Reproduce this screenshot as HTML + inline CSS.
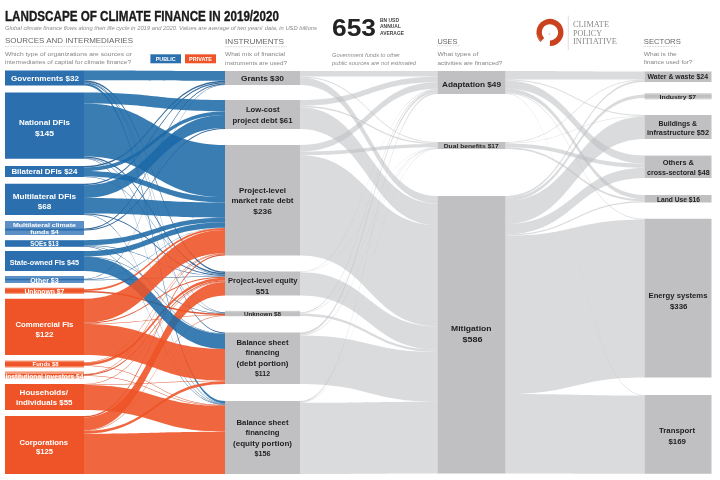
<!DOCTYPE html>
<html><head><meta charset="utf-8"><title>Landscape of Climate Finance in 2019/2020</title>
<style>
html,body{margin:0;padding:0;background:#fff;}
body{width:720px;height:480px;overflow:hidden;}
svg{display:block;}
text{font-family:"Liberation Sans",sans-serif;}
.b{font-weight:bold;}
.w{fill:#fff;}
.k{fill:#1e1e1e;}
.g{fill:#666;}
.g2{fill:#858585;}
.q{fill:#8a8a8a;font-style:italic;}
.serif{font-family:"Liberation Serif",serif;fill:#8a8a8a;}
</style></head>
<body>
<svg width="720" height="480" viewBox="0 0 720 480">
<rect width="720" height="480" fill="#fff"/>

<!-- ============ HEADER ============ -->
<text x="5" y="20.8" font-size="14.2" class="b" fill="#1a1a1a" stroke="#1a1a1a" stroke-width="0.35" textLength="274" lengthAdjust="spacingAndGlyphs">LANDSCAPE OF CLIMATE FINANCE IN 2019/2020</text>
<text x="5" y="30.3" font-size="5.6" class="q" textLength="312" lengthAdjust="spacingAndGlyphs">Global climate finance flows along their life cycle in 2019 and 2020. Values are average of two years' data, in USD billions</text>

<text x="5" y="43.4" font-size="8" class="g" textLength="128" lengthAdjust="spacingAndGlyphs">SOURCES AND INTERMEDIARIES</text>
<line x1="5" y1="46.4" x2="133" y2="46.4" stroke="#aaa" stroke-width="0.6" stroke-dasharray="0.8 0.8"/>
<text x="5" y="56" font-size="5.9" class="g2" textLength="127" lengthAdjust="spacingAndGlyphs">Which type of organizations are sources or</text>
<text x="5" y="64.2" font-size="5.9" class="g2" textLength="126" lengthAdjust="spacingAndGlyphs">intermediaries of capital for climate finance?</text>

<rect x="150.4" y="54.3" width="30.6" height="9" fill="#2b6fae"/>
<text x="165.7" y="60.9" font-size="5.2" class="b w" text-anchor="middle" textLength="20" lengthAdjust="spacingAndGlyphs">PUBLIC</text>
<rect x="185" y="54.3" width="31" height="9" fill="#ee5428"/>
<text x="200.5" y="60.9" font-size="5.2" class="b w" text-anchor="middle" textLength="23" lengthAdjust="spacingAndGlyphs">PRIVATE</text>

<text x="225" y="43.9" font-size="8" class="g" textLength="59" lengthAdjust="spacingAndGlyphs">INSTRUMENTS</text>
<line x1="225" y1="46.7" x2="287" y2="46.7" stroke="#aaa" stroke-width="0.6" stroke-dasharray="0.8 0.8"/>
<text x="225" y="56.3" font-size="5.9" class="g2" textLength="60" lengthAdjust="spacingAndGlyphs">What mix of financial</text>
<text x="225" y="64.5" font-size="5.9" class="g2" textLength="62" lengthAdjust="spacingAndGlyphs">instruments are used?</text>

<text x="332" y="35.6" font-size="24" class="b" fill="#232323" textLength="44" lengthAdjust="spacingAndGlyphs">653</text>
<text x="380" y="22.2" font-size="5.2" class="b" fill="#444" textLength="19" lengthAdjust="spacingAndGlyphs">BN USD</text>
<text x="380" y="28.2" font-size="5.2" class="b" fill="#444" textLength="21" lengthAdjust="spacingAndGlyphs">ANNUAL</text>
<text x="380" y="34.6" font-size="5.6" class="b" fill="#444" textLength="24" lengthAdjust="spacingAndGlyphs">AVERAGE</text>
<text x="332" y="57" font-size="5.4" class="q" fill="#666" textLength="68" lengthAdjust="spacingAndGlyphs">Government funds to other</text>
<text x="332" y="64.6" font-size="5.4" class="q" fill="#666" textLength="84" lengthAdjust="spacingAndGlyphs">public sources are not estimated</text>

<text x="437.4" y="43.6" font-size="8" class="g" textLength="20" lengthAdjust="spacingAndGlyphs">USES</text>
<line x1="437.4" y1="45.8" x2="460" y2="45.8" stroke="#aaa" stroke-width="0.6" stroke-dasharray="0.8 0.8"/>
<text x="437.4" y="56.3" font-size="5.9" class="g2" textLength="41" lengthAdjust="spacingAndGlyphs">What types of</text>
<text x="437.4" y="64.5" font-size="5.9" class="g2" textLength="65" lengthAdjust="spacingAndGlyphs">activities are financed?</text>

<!-- CPI logo -->
<g transform="translate(549.9,32.4)">
  <path d="M-7.6,7.6 A10.8,10.8 0 1 1 0,10.8" fill="none" stroke="#c9421d" stroke-width="5.4"/>
  <path d="M-8.9,8.9 A12.6,12.6 0 0 1 -12.3,2.5" fill="none" stroke="#d8684a" stroke-width="1.4"/>
  <circle cx="-0.6" cy="1.6" r="0.9" fill="#f0c2b2"/>
</g>
<line x1="568.3" y1="15.5" x2="568.3" y2="50" stroke="#d8d8d8" stroke-width="0.8"/>
<text x="573" y="27.4" font-size="8.4" class="serif" textLength="36" lengthAdjust="spacingAndGlyphs">CLIMATE</text>
<text x="573" y="35.7" font-size="8.4" class="serif" textLength="29" lengthAdjust="spacingAndGlyphs">POLICY</text>
<text x="573" y="44" font-size="8.4" class="serif" textLength="44" lengthAdjust="spacingAndGlyphs">INITIATIVE</text>

<text x="643.8" y="43.7" font-size="8" class="g" textLength="37" lengthAdjust="spacingAndGlyphs">SECTORS</text>
<line x1="643.8" y1="46.5" x2="677" y2="46.5" stroke="#aaa" stroke-width="0.6" stroke-dasharray="0.8 0.8"/>
<text x="643.8" y="56" font-size="5.9" class="g2" textLength="33" lengthAdjust="spacingAndGlyphs">What is the</text>
<text x="643.8" y="64.4" font-size="5.9" class="g2" textLength="48.5" lengthAdjust="spacingAndGlyphs">finance used for?</text>

<!-- ============ FLOWS ============ -->
<defs><filter id="soft" x="-2%" y="-2%" width="104%" height="104%"><feGaussianBlur stdDeviation="0.55"/></filter></defs>
<g id="flows" filter="url(#soft)">
<path d="M84.00,81.75C154.50,81.75 154.50,312.20 225.00,312.20L225.00,312.68C154.50,312.68 154.50,82.22 84.00,82.22Z" fill="#1a5590" fill-opacity="0.88"/>
<path d="M84.00,157.84C154.50,157.84 154.50,312.68 225.00,312.68L225.00,313.15C154.50,313.15 154.50,158.29 84.00,158.29Z" fill="#1a5590" fill-opacity="0.88"/>
<path d="M84.00,158.29C154.50,158.29 154.50,403.43 225.00,403.43L225.00,403.92C154.50,403.92 154.50,158.75 84.00,158.75Z" fill="#1a5590" fill-opacity="0.88"/>
<path d="M84.00,176.54C154.50,176.54 154.50,274.38 225.00,274.38L225.00,274.86C154.50,274.86 154.50,177.00 84.00,177.00Z" fill="#1a5590" fill-opacity="0.88"/>
<path d="M84.00,214.54C154.50,214.54 154.50,403.92 225.00,403.92L225.00,404.41C154.50,404.41 154.50,215.00 84.00,215.00Z" fill="#1a5590" fill-opacity="0.88"/>
<path d="M84.00,245.28C154.50,245.28 154.50,275.82 225.00,275.82L225.00,276.30C154.50,276.30 154.50,245.78 84.00,245.78Z" fill="#1a5590" fill-opacity="0.88"/>
<path d="M84.00,245.78C154.50,245.78 154.50,333.44 225.00,333.44L225.00,333.92C154.50,333.92 154.50,246.29 84.00,246.29Z" fill="#1a5590" fill-opacity="0.88"/>
<path d="M84.00,246.29C154.50,246.29 154.50,404.41 225.00,404.41L225.00,404.89C154.50,404.89 154.50,246.80 84.00,246.80Z" fill="#1a5590" fill-opacity="0.88"/>
<path d="M84.00,256.33C154.50,256.33 154.50,313.15 225.00,313.15L225.00,313.63C154.50,313.63 154.50,256.78 84.00,256.78Z" fill="#1a5590" fill-opacity="0.88"/>
<path d="M84.00,278.80C154.50,278.80 154.50,84.53 225.00,84.53L225.00,85.00C154.50,85.00 154.50,279.30 84.00,279.30Z" fill="#1a5590" fill-opacity="0.88"/>
<path d="M84.00,279.30C154.50,279.30 154.50,227.65 225.00,227.65L225.00,228.10C154.50,228.10 154.50,279.80 84.00,279.80Z" fill="#1a5590" fill-opacity="0.88"/>
<path d="M84.00,279.80C154.50,279.80 154.50,276.30 225.00,276.30L225.00,276.78C154.50,276.78 154.50,280.30 84.00,280.30Z" fill="#1a5590" fill-opacity="0.88"/>
<path d="M84.00,323.65C154.50,323.65 154.50,315.05 225.00,315.05L225.00,315.53C154.50,315.53 154.50,324.11 84.00,324.11Z" fill="#d8461c" fill-opacity="0.88"/>
<path d="M84.00,362.20C154.50,362.20 154.50,253.25 225.00,253.25L225.00,253.70C154.50,253.70 154.50,362.68 84.00,362.68Z" fill="#d8461c" fill-opacity="0.88"/>
<path d="M84.00,365.53C154.50,365.53 154.50,404.89 225.00,404.89L225.00,405.38C154.50,405.38 154.50,366.00 84.00,366.00Z" fill="#d8461c" fill-opacity="0.88"/>
<path d="M84.00,374.00C154.50,374.00 154.50,253.70 225.00,253.70L225.00,254.15C154.50,254.15 154.50,374.50 84.00,374.50Z" fill="#d8461c" fill-opacity="0.88"/>
<path d="M84.00,375.50C154.50,375.50 154.50,405.38 225.00,405.38L225.00,405.87C154.50,405.87 154.50,376.00 84.00,376.00Z" fill="#d8461c" fill-opacity="0.88"/>
<path d="M84.00,384.00C154.50,384.00 154.50,281.58 225.00,281.58L225.00,282.06C154.50,282.06 154.50,384.47 84.00,384.47Z" fill="#d8461c" fill-opacity="0.88"/>
<path d="M84.00,384.47C154.50,384.47 154.50,380.69 225.00,380.69L225.00,381.17C154.50,381.17 154.50,384.95 84.00,384.95Z" fill="#d8461c" fill-opacity="0.88"/>
<path d="M84.00,430.38C154.50,430.38 154.50,315.53 225.00,315.53L225.00,316.00C154.50,316.00 154.50,430.85 84.00,430.85Z" fill="#d8461c" fill-opacity="0.88"/>
<path d="M84.00,82.22C154.50,82.22 154.50,332.50 225.00,332.50L225.00,333.44C154.50,333.44 154.50,83.16 84.00,83.16Z" fill="#1a5590" fill-opacity="0.88"/>
<path d="M84.00,213.62C154.50,213.62 154.50,274.86 225.00,274.86L225.00,275.82C154.50,275.82 154.50,214.54 84.00,214.54Z" fill="#1a5590" fill-opacity="0.88"/>
<path d="M84.00,228.60C154.50,228.60 154.50,83.60 225.00,83.60L225.00,84.53C154.50,84.53 154.50,229.60 84.00,229.60Z" fill="#1a5590" fill-opacity="0.88"/>
<path d="M84.00,229.60C154.50,229.60 154.50,128.06 225.00,128.06L225.00,129.00C154.50,129.00 154.50,230.60 84.00,230.60Z" fill="#1a5590" fill-opacity="0.88"/>
<path d="M84.00,322.73C154.50,322.73 154.50,276.78 225.00,276.78L225.00,277.74C154.50,277.74 154.50,323.65 84.00,323.65Z" fill="#d8461c" fill-opacity="0.88"/>
<path d="M84.00,374.50C154.50,374.50 154.50,280.62 225.00,280.62L225.00,281.58C154.50,281.58 154.50,375.50 84.00,375.50Z" fill="#d8461c" fill-opacity="0.88"/>
<path d="M84.00,80.34C154.50,80.34 154.50,271.50 225.00,271.50L225.00,272.94C154.50,272.94 154.50,81.75 84.00,81.75Z" fill="#1a5590" fill-opacity="0.88"/>
<path d="M84.00,156.47C154.50,156.47 154.50,272.94 225.00,272.94L225.00,274.38C154.50,274.38 154.50,157.84 84.00,157.84Z" fill="#1a5590" fill-opacity="0.88"/>
<path d="M84.00,166.00C154.50,166.00 154.50,80.80 225.00,80.80L225.00,82.20C154.50,82.20 154.50,167.38 84.00,167.38Z" fill="#1a5590" fill-opacity="0.88"/>
<path d="M84.00,183.75C154.50,183.75 154.50,82.20 225.00,82.20L225.00,83.60C154.50,83.60 154.50,185.13 84.00,185.13Z" fill="#1a5590" fill-opacity="0.88"/>
<path d="M84.00,291.09C154.50,291.09 154.50,313.63 225.00,313.63L225.00,315.05C154.50,315.05 154.50,292.50 84.00,292.50Z" fill="#d8461c" fill-opacity="0.88"/>
<path d="M84.00,416.00C154.50,416.00 154.50,254.15 225.00,254.15L225.00,255.50C154.50,255.50 154.50,417.39 84.00,417.39Z" fill="#d8461c" fill-opacity="0.88"/>
<path d="M84.00,289.20C154.50,289.20 154.50,228.10 225.00,228.10L225.00,229.90C154.50,229.90 154.50,291.09 84.00,291.09Z" fill="#ee5327" fill-opacity="0.88"/>
<path d="M84.00,83.16C154.50,83.16 154.50,401.00 225.00,401.00L225.00,403.43C154.50,403.43 154.50,85.50 84.00,85.50Z" fill="#1e6ba8" fill-opacity="0.88"/>
<path d="M84.00,362.68C154.50,362.68 154.50,277.74 225.00,277.74L225.00,280.62C154.50,280.62 154.50,365.53 84.00,365.53Z" fill="#ee5327" fill-opacity="0.88"/>
<path d="M84.00,430.85C154.50,430.85 154.50,381.17 225.00,381.17L225.00,384.00C154.50,384.00 154.50,433.63 84.00,433.63Z" fill="#ee5327" fill-opacity="0.88"/>
<path d="M84.00,167.38C154.50,167.38 154.50,111.23 225.00,111.23L225.00,114.97C154.50,114.97 154.50,171.04 84.00,171.04Z" fill="#1e6ba8" fill-opacity="0.88"/>
<path d="M84.00,240.20C154.50,240.20 154.50,217.77 225.00,217.77L225.00,222.26C154.50,222.26 154.50,245.28 84.00,245.28Z" fill="#1e6ba8" fill-opacity="0.88"/>
<path d="M84.00,171.04C154.50,171.04 154.50,197.11 225.00,197.11L225.00,202.50C154.50,202.50 154.50,176.54 84.00,176.54Z" fill="#1e6ba8" fill-opacity="0.88"/>
<path d="M84.00,251.00C154.50,251.00 154.50,222.26 225.00,222.26L225.00,227.65C154.50,227.65 154.50,256.33 84.00,256.33Z" fill="#1e6ba8" fill-opacity="0.88"/>
<path d="M84.00,70.50C154.50,70.50 154.50,71.00 225.00,71.00L225.00,80.80C154.50,80.80 154.50,80.34 84.00,80.34Z" fill="#1e6ba8" fill-opacity="0.88"/>
<path d="M84.00,92.50C154.50,92.50 154.50,100.00 225.00,100.00L225.00,111.23C154.50,111.23 154.50,103.47 84.00,103.47Z" fill="#1e6ba8" fill-opacity="0.88"/>
<path d="M84.00,185.13C154.50,185.13 154.50,114.97 225.00,114.97L225.00,128.06C154.50,128.06 154.50,198.00 84.00,198.00Z" fill="#1e6ba8" fill-opacity="0.88"/>
<path d="M84.00,417.39C154.50,417.39 154.50,282.06 225.00,282.06L225.00,295.50C154.50,295.50 154.50,430.38 84.00,430.38Z" fill="#ee5327" fill-opacity="0.88"/>
<path d="M84.00,256.78C154.50,256.78 154.50,333.92 225.00,333.92L225.00,349.04C154.50,349.04 154.50,271.00 84.00,271.00Z" fill="#1e6ba8" fill-opacity="0.88"/>
<path d="M84.00,198.00C154.50,198.00 154.50,202.50 225.00,202.50L225.00,217.77C154.50,217.77 154.50,213.62 84.00,213.62Z" fill="#1e6ba8" fill-opacity="0.88"/>
<path d="M84.00,298.75C154.50,298.75 154.50,229.90 225.00,229.90L225.00,253.25C154.50,253.25 154.50,322.73 84.00,322.73Z" fill="#ee5327" fill-opacity="0.88"/>
<path d="M84.00,384.95C154.50,384.95 154.50,405.87 225.00,405.87L225.00,431.66C154.50,431.66 154.50,410.00 84.00,410.00Z" fill="#ee5327" fill-opacity="0.88"/>
<path d="M84.00,324.11C154.50,324.11 154.50,349.04 225.00,349.04L225.00,380.69C154.50,380.69 154.50,355.00 84.00,355.00Z" fill="#ee5327" fill-opacity="0.88"/>
<path d="M84.00,433.63C154.50,433.63 154.50,431.66 225.00,431.66L225.00,474.00C154.50,474.00 154.50,474.00 84.00,474.00Z" fill="#ee5327" fill-opacity="0.88"/>
<path d="M84.00,103.47C154.50,103.47 154.50,145.00 225.00,145.00L225.00,197.11C154.50,197.11 154.50,156.47 84.00,156.47Z" fill="#1e6ba8" fill-opacity="0.88"/>
<path d="M300.00,271.97C368.75,271.97 368.75,147.35 437.50,147.35L437.50,147.56C368.75,147.56 368.75,272.21 300.00,272.21Z" fill="#bcbdc1" fill-opacity="0.55"/>
<path d="M300.00,271.50C368.75,271.50 368.75,88.84 437.50,88.84L437.50,89.31C368.75,89.31 368.75,271.97 300.00,271.97Z" fill="#bcbdc1" fill-opacity="0.55"/>
<path d="M300.00,313.15C368.75,313.15 368.75,147.56 437.50,147.56L437.50,147.97C368.75,147.97 368.75,313.62 300.00,313.62Z" fill="#bcbdc1" fill-opacity="0.55"/>
<path d="M300.00,402.40C368.75,402.40 368.75,148.59 437.50,148.59L437.50,149.00C368.75,149.00 368.75,402.87 300.00,402.87Z" fill="#bcbdc1" fill-opacity="0.55"/>
<path d="M300.00,334.80C368.75,334.80 368.75,147.97 437.50,147.97L437.50,148.59C368.75,148.59 368.75,335.49 300.00,335.49Z" fill="#bcbdc1" fill-opacity="0.55"/>
<path d="M300.00,76.60C368.75,76.60 368.75,142.00 437.50,142.00L437.50,142.82C368.75,142.82 368.75,77.53 300.00,77.53Z" fill="#bcbdc1" fill-opacity="0.55"/>
<path d="M300.00,312.20C368.75,312.20 368.75,89.31 437.50,89.31L437.50,90.24C368.75,90.24 368.75,313.15 300.00,313.15Z" fill="#bcbdc1" fill-opacity="0.55"/>
<path d="M300.00,105.70C368.75,105.70 368.75,142.82 437.50,142.82L437.50,144.06C368.75,144.06 368.75,107.13 300.00,107.13Z" fill="#bcbdc1" fill-opacity="0.55"/>
<path d="M300.00,401.00C368.75,401.00 368.75,92.59 437.50,92.59L437.50,94.00C368.75,94.00 368.75,402.40 300.00,402.40Z" fill="#bcbdc1" fill-opacity="0.55"/>
<path d="M300.00,313.62C368.75,313.62 368.75,349.62 437.50,349.62L437.50,351.98C368.75,351.98 368.75,316.00 300.00,316.00Z" fill="#bcbdc1" fill-opacity="0.55"/>
<path d="M300.00,332.50C368.75,332.50 368.75,90.24 437.50,90.24L437.50,92.59C368.75,92.59 368.75,334.80 300.00,334.80Z" fill="#bcbdc1" fill-opacity="0.55"/>
<path d="M300.00,151.56C368.75,151.56 368.75,144.06 437.50,144.06L437.50,147.35C368.75,147.35 368.75,155.30 300.00,155.30Z" fill="#bcbdc1" fill-opacity="0.55"/>
<path d="M300.00,71.00C368.75,71.00 368.75,71.00 437.50,71.00L437.50,76.63C368.75,76.63 368.75,76.60 300.00,76.60Z" fill="#bcbdc1" fill-opacity="0.55"/>
<path d="M300.00,100.00C368.75,100.00 368.75,76.63 437.50,76.63L437.50,82.27C368.75,82.27 368.75,105.70 300.00,105.70Z" fill="#bcbdc1" fill-opacity="0.55"/>
<path d="M300.00,145.00C368.75,145.00 368.75,82.27 437.50,82.27L437.50,88.84C368.75,88.84 368.75,151.56 300.00,151.56Z" fill="#bcbdc1" fill-opacity="0.55"/>
<path d="M300.00,77.53C368.75,77.53 368.75,196.00 437.50,196.00L437.50,203.55C368.75,203.55 368.75,85.00 300.00,85.00Z" fill="#bcbdc1" fill-opacity="0.55"/>
<path d="M300.00,107.13C368.75,107.13 368.75,203.55 437.50,203.55L437.50,225.26C368.75,225.26 368.75,129.00 300.00,129.00Z" fill="#bcbdc1" fill-opacity="0.55"/>
<path d="M300.00,272.21C368.75,272.21 368.75,326.26 437.50,326.26L437.50,349.62C368.75,349.62 368.75,295.50 300.00,295.50Z" fill="#bcbdc1" fill-opacity="0.55"/>
<path d="M300.00,335.49C368.75,335.49 368.75,351.98 437.50,351.98L437.50,401.77C368.75,401.77 368.75,384.00 300.00,384.00Z" fill="#bcbdc1" fill-opacity="0.55"/>
<path d="M300.00,402.87C368.75,402.87 368.75,401.77 437.50,401.77L437.50,473.50C368.75,473.50 368.75,474.00 300.00,474.00Z" fill="#bcbdc1" fill-opacity="0.55"/>
<path d="M300.00,155.30C368.75,155.30 368.75,225.26 437.50,225.26L437.50,326.26C368.75,326.26 368.75,255.50 300.00,255.50Z" fill="#bcbdc1" fill-opacity="0.55"/>
<path d="M505.50,142.82C575.00,142.82 575.00,94.74 644.50,94.74L644.50,94.84C575.00,94.84 575.00,142.91 505.50,142.91Z" fill="#bcbdc1" fill-opacity="0.55"/>
<path d="M505.50,79.45C575.00,79.45 575.00,94.60 644.50,94.60L644.50,94.74C575.00,94.74 575.00,79.59 505.50,79.59Z" fill="#bcbdc1" fill-opacity="0.55"/>
<path d="M505.50,93.39C575.00,93.39 575.00,395.00 644.50,395.00L644.50,395.61C575.00,395.61 575.00,94.00 505.50,94.00Z" fill="#bcbdc1" fill-opacity="0.55"/>
<path d="M505.50,92.73C575.00,92.73 575.00,218.75 644.50,218.75L644.50,219.41C575.00,219.41 575.00,93.39 505.50,93.39Z" fill="#bcbdc1" fill-opacity="0.55"/>
<path d="M505.50,142.91C575.00,142.91 575.00,115.92 644.50,115.92L644.50,116.62C575.00,116.62 575.00,143.52 505.50,143.52Z" fill="#bcbdc1" fill-opacity="0.55"/>
<path d="M505.50,79.59C575.00,79.59 575.00,115.00 644.50,115.00L644.50,115.92C575.00,115.92 575.00,80.53 505.50,80.53Z" fill="#bcbdc1" fill-opacity="0.55"/>
<path d="M505.50,142.00C575.00,142.00 575.00,79.38 644.50,79.38L644.50,80.25C575.00,80.25 575.00,142.82 505.50,142.82Z" fill="#bcbdc1" fill-opacity="0.55"/>
<path d="M505.50,234.36C575.00,234.36 575.00,201.23 644.50,201.23L644.50,202.50C575.00,202.50 575.00,235.64 505.50,235.64Z" fill="#bcbdc1" fill-opacity="0.55"/>
<path d="M505.50,196.00C575.00,196.00 575.00,80.25 644.50,80.25L644.50,82.00C575.00,82.00 575.00,197.89 505.50,197.89Z" fill="#bcbdc1" fill-opacity="0.55"/>
<path d="M505.50,147.23C575.00,147.23 575.00,199.22 644.50,199.22L644.50,201.23C575.00,201.23 575.00,149.00 505.50,149.00Z" fill="#bcbdc1" fill-opacity="0.55"/>
<path d="M505.50,197.89C575.00,197.89 575.00,94.84 644.50,94.84L644.50,97.90C575.00,97.90 575.00,200.97 505.50,200.97Z" fill="#bcbdc1" fill-opacity="0.55"/>
<path d="M505.50,88.51C575.00,88.51 575.00,195.00 644.50,195.00L644.50,199.22C575.00,199.22 575.00,92.73 505.50,92.73Z" fill="#bcbdc1" fill-opacity="0.55"/>
<path d="M505.50,143.52C575.00,143.52 575.00,163.53 644.50,163.53L644.50,167.73C575.00,167.73 575.00,147.23 505.50,147.23Z" fill="#bcbdc1" fill-opacity="0.55"/>
<path d="M505.50,80.53C575.00,80.53 575.00,155.60 644.50,155.60L644.50,163.53C575.00,163.53 575.00,88.51 505.50,88.51Z" fill="#bcbdc1" fill-opacity="0.55"/>
<path d="M505.50,71.00C575.00,71.00 575.00,71.50 644.50,71.50L644.50,79.38C575.00,79.38 575.00,79.45 505.50,79.45Z" fill="#bcbdc1" fill-opacity="0.55"/>
<path d="M505.50,223.94C575.00,223.94 575.00,167.73 644.50,167.73L644.50,178.00C575.00,178.00 575.00,234.36 505.50,234.36Z" fill="#bcbdc1" fill-opacity="0.55"/>
<path d="M505.50,200.97C575.00,200.97 575.00,116.62 644.50,116.62L644.50,139.00C575.00,139.00 575.00,223.94 505.50,223.94Z" fill="#bcbdc1" fill-opacity="0.55"/>
<path d="M505.50,394.09C575.00,394.09 575.00,395.61 644.50,395.61L644.50,473.75C575.00,473.75 575.00,473.50 505.50,473.50Z" fill="#bcbdc1" fill-opacity="0.55"/>
<path d="M505.50,235.64C575.00,235.64 575.00,219.41 644.50,219.41L644.50,377.50C575.00,377.50 575.00,394.09 505.50,394.09Z" fill="#bcbdc1" fill-opacity="0.55"/>
</g>

<!-- ============ NODES col0 ============ -->
<g>
<rect x="5" y="70.5" width="79" height="15" fill="#2b6fae"/>
<rect x="5" y="92.5" width="79" height="66.25" fill="#2b6fae"/>
<rect x="5" y="166" width="79" height="11" fill="#2b6fae"/>
<rect x="5" y="183.75" width="79" height="31.25" fill="#2b6fae"/>
<rect x="5" y="221" width="79" height="14" fill="#5b8fc6"/>
<rect x="5" y="228.6" width="79" height="2" fill="#2b6fae"/>
<rect x="5" y="240.2" width="79" height="6.6" fill="#2b6fae"/>
<rect x="5" y="251" width="79" height="20" fill="#2b6fae"/>
<rect x="5" y="276" width="79" height="7" fill="#5b8fc6"/>
<rect x="5" y="278.8" width="79" height="1.5" fill="#2b6fae"/>
<rect x="5" y="287.75" width="79" height="6" fill="#f27a55"/>
<rect x="5" y="289.2" width="79" height="3.3" fill="#ee5428"/>
<rect x="5" y="298.75" width="79" height="56.25" fill="#ee5428"/>
<rect x="5" y="360.6" width="79" height="6.9" fill="#f3865f"/>
<rect x="5" y="362.2" width="79" height="3.8" fill="#ee5428"/>
<rect x="5" y="371.4" width="79" height="7.3" fill="#f59a7a"/>
<rect x="5" y="374" width="79" height="2" fill="#ee5428"/>
<rect x="5" y="384" width="79" height="26" fill="#ee5428"/>
<rect x="5" y="416" width="79" height="58" fill="#ee5428"/>
</g>
<g class="b w" font-size="7.6" text-anchor="middle">
<text x="45" y="81.4" textLength="68" lengthAdjust="spacingAndGlyphs">Governments $32</text>
<text x="44.4" y="125.3" textLength="51" lengthAdjust="spacingAndGlyphs">National DFIs</text>
<text x="44.4" y="136" textLength="19" lengthAdjust="spacingAndGlyphs">$145</text>
<text x="44.4" y="174.4" textLength="66" lengthAdjust="spacingAndGlyphs">Bilateral DFIs $24</text>
<text x="44.4" y="198.6" textLength="63.5" lengthAdjust="spacingAndGlyphs">Multilateral DFIs</text>
<text x="44.4" y="209" textLength="13.5" lengthAdjust="spacingAndGlyphs">$68</text>
<text x="44.4" y="226.8" font-size="6" textLength="63" lengthAdjust="spacingAndGlyphs">Multilateral climate</text>
<text x="44.4" y="233.6" font-size="6" textLength="28.5" lengthAdjust="spacingAndGlyphs">funds $4</text>
<text x="44.4" y="245.6" font-size="6.4" textLength="28.5" lengthAdjust="spacingAndGlyphs">SOEs $13</text>
<text x="44.4" y="264.9" textLength="69.5" lengthAdjust="spacingAndGlyphs">State-owned FIs $45</text>
<text x="44.4" y="282.8" font-size="6.4" textLength="28.5" lengthAdjust="spacingAndGlyphs">Other $3</text>
<text x="44.4" y="293.6" font-size="6.4" textLength="40" lengthAdjust="spacingAndGlyphs">Unknown $7</text>
<text x="44.4" y="326.9" textLength="58" lengthAdjust="spacingAndGlyphs">Commercial FIs</text>
<text x="44.4" y="337.4" textLength="18" lengthAdjust="spacingAndGlyphs">$122</text>
<text x="45.6" y="366" font-size="6" textLength="26" lengthAdjust="spacingAndGlyphs">Funds $8</text>
<text x="44.4" y="378.5" font-size="6.4" textLength="78" lengthAdjust="spacingAndGlyphs">Institutional investors $4</text>
<text x="43.8" y="395" textLength="48.5" lengthAdjust="spacingAndGlyphs">Households/</text>
<text x="44.2" y="404.8" textLength="56.5" lengthAdjust="spacingAndGlyphs">individuals $55</text>
<text x="43.8" y="444.9" textLength="48.5" lengthAdjust="spacingAndGlyphs">Corporations</text>
<text x="44.5" y="454.4" textLength="17" lengthAdjust="spacingAndGlyphs">$125</text>
</g>

<!-- ============ NODES col1 ============ -->
<g fill="#c0c0c2">
<rect x="225" y="71" width="75" height="14"/>
<rect x="225" y="100" width="75" height="29"/>
<rect x="225" y="145" width="75" height="110.5"/>
<rect x="225" y="271.5" width="75" height="24"/>
<rect x="225" y="310.8" width="75" height="5.5" fill="#cfcfd1"/>
<rect x="225" y="312.2" width="75" height="3.8"/>
<rect x="225" y="332.5" width="75" height="51.5"/>
<rect x="225" y="401" width="75" height="73"/>
</g>
<g class="b k" font-size="8" text-anchor="middle">
<text x="262.5" y="81.3" textLength="43" lengthAdjust="spacingAndGlyphs">Grants $30</text>
<text x="262.7" y="112.4" textLength="33.5" lengthAdjust="spacingAndGlyphs">Low-cost</text>
<text x="262.5" y="122.6" textLength="60" lengthAdjust="spacingAndGlyphs">project debt $61</text>
<text x="262.5" y="192.5" textLength="47" lengthAdjust="spacingAndGlyphs">Project-level</text>
<text x="262.5" y="203.3" textLength="62" lengthAdjust="spacingAndGlyphs">market rate debt</text>
<text x="262.5" y="213.6" textLength="18.5" lengthAdjust="spacingAndGlyphs">$236</text>
<text x="262.8" y="283.3" textLength="69.5" lengthAdjust="spacingAndGlyphs">Project-level equity</text>
<text x="262.5" y="293.6" textLength="13.5" lengthAdjust="spacingAndGlyphs">$51</text>
<text x="262.5" y="316.2" font-size="6" textLength="37" lengthAdjust="spacingAndGlyphs">Unknown $8</text>
<text x="262.5" y="344.8" textLength="52" lengthAdjust="spacingAndGlyphs">Balance sheet</text>
<text x="262.5" y="355.1" textLength="34" lengthAdjust="spacingAndGlyphs">financing</text>
<text x="262.5" y="365.5" textLength="52" lengthAdjust="spacingAndGlyphs">(debt portion)</text>
<text x="262.5" y="376.1" textLength="15" lengthAdjust="spacingAndGlyphs">$112</text>
<text x="262.5" y="424.8" textLength="52" lengthAdjust="spacingAndGlyphs">Balance sheet</text>
<text x="262.5" y="435.3" textLength="34" lengthAdjust="spacingAndGlyphs">financing</text>
<text x="262.5" y="445.8" textLength="59" lengthAdjust="spacingAndGlyphs">(equity portion)</text>
<text x="262.5" y="456.4" textLength="16" lengthAdjust="spacingAndGlyphs">$156</text>
</g>

<!-- ============ NODES col2 ============ -->
<g fill="#c0c0c2">
<rect x="437.5" y="71" width="68" height="23"/>
<rect x="437.5" y="142" width="68" height="7"/>
<rect x="437.5" y="196" width="68" height="277.5"/>
</g>
<g class="b k" text-anchor="middle">
<text x="471.5" y="87" font-size="8" textLength="59" lengthAdjust="spacingAndGlyphs">Adaptation $49</text>
<text x="471.3" y="148.2" font-size="6" textLength="55" lengthAdjust="spacingAndGlyphs">Dual benefits $17</text>
<text x="471.3" y="331.4" font-size="6.6" textLength="40.5" lengthAdjust="spacingAndGlyphs">Mitigation</text>
<text x="472.5" y="342" font-size="6.6" textLength="20" lengthAdjust="spacingAndGlyphs">$586</text>
</g>

<!-- ============ NODES col3 ============ -->
<g fill="#c0c0c2">
<rect x="644.5" y="71.5" width="67" height="10.5"/>
<rect x="644.5" y="93.2" width="67" height="6.2" fill="#d2d2d2"/>
<rect x="644.5" y="94.6" width="67" height="3.3"/>
<rect x="644.5" y="115" width="67" height="24"/>
<rect x="644.5" y="155.6" width="67" height="22.4"/>
<rect x="644.5" y="195" width="67" height="7.5"/>
<rect x="644.5" y="218.75" width="67" height="158.75"/>
<rect x="644.5" y="395" width="67" height="78.75"/>
</g>
<g class="b k" text-anchor="middle">
<text x="677.8" y="79.2" font-size="7" textLength="60.5" lengthAdjust="spacingAndGlyphs">Water &amp; waste $24</text>
<text x="677.8" y="99.2" font-size="6" textLength="36.4" lengthAdjust="spacingAndGlyphs">Industry $7</text>
<text x="677.8" y="125.6" font-size="7" textLength="38.5" lengthAdjust="spacingAndGlyphs">Buildings &amp;</text>
<text x="678" y="135.4" font-size="7" textLength="62" lengthAdjust="spacingAndGlyphs">infrastructure $52</text>
<text x="678.3" y="165" font-size="7" textLength="31.3" lengthAdjust="spacingAndGlyphs">Others &amp;</text>
<text x="678.3" y="175.4" font-size="7" textLength="62.6" lengthAdjust="spacingAndGlyphs">cross-sectoral $48</text>
<text x="678.5" y="201.5" font-size="6.4" textLength="43" lengthAdjust="spacingAndGlyphs">Land Use $16</text>
<text x="678" y="297.5" font-size="6.4" textLength="59" lengthAdjust="spacingAndGlyphs">Energy systems</text>
<text x="678.7" y="308.5" font-size="6.4" textLength="17.5" lengthAdjust="spacingAndGlyphs">$336</text>
<text x="677" y="433" font-size="6.4" textLength="36" lengthAdjust="spacingAndGlyphs">Transport</text>
<text x="677.2" y="444" font-size="6.4" textLength="17.5" lengthAdjust="spacingAndGlyphs">$169</text>
</g>
</svg>
</body></html>
